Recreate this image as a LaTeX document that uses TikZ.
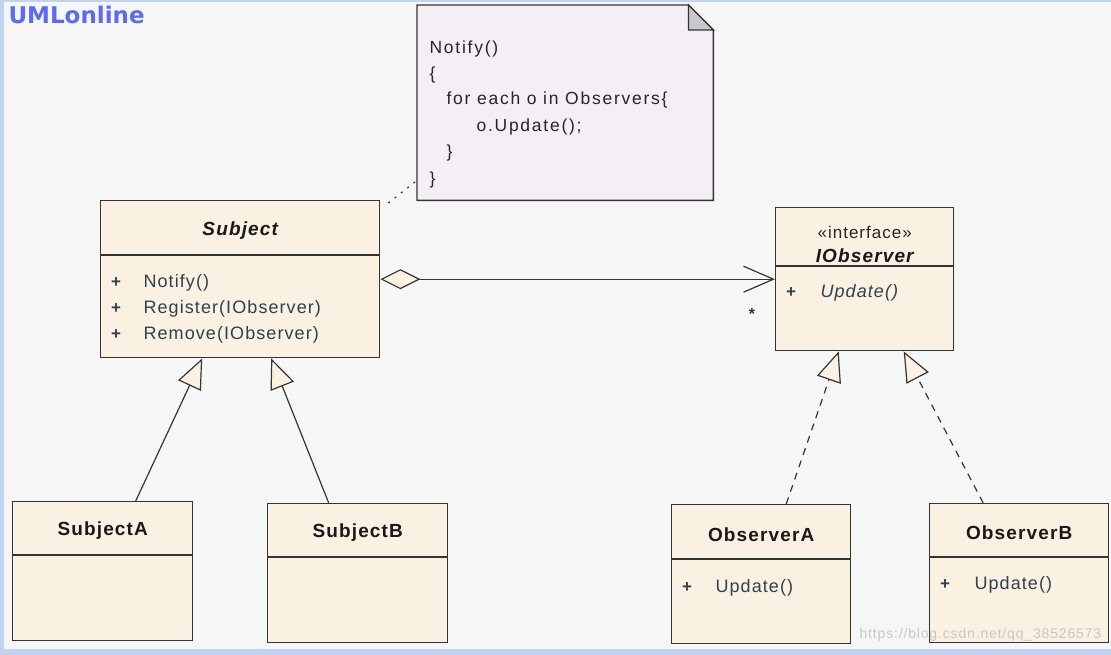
\documentclass[tikz,border=0pt]{standalone}
\usepackage{fontspec}
\setmainfont{Liberation Sans}[LetterSpace=6]
\newfontfamily\notefont{Liberation Sans}[LetterSpace=10]
\newfontfamily\logofont{DejaVu Sans}
\usetikzlibrary{arrows.meta}

\definecolor{boxfill}{RGB}{251,241,227}
\definecolor{notefill}{RGB}{243,239,245}
\definecolor{foldfill}{RGB}{200,200,204}
\definecolor{linecol}{RGB}{52,52,52}
\definecolor{membercol}{RGB}{44,66,78}
\definecolor{logoblue}{RGB}{92,108,240}
\definecolor{framecol}{RGB}{192,212,242}
\definecolor{bgcol}{RGB}{246,246,246}

\tikzset{
  classbox/.style={draw=linecol,fill=boxfill,line width=1.4pt,anchor=north west,inner sep=0pt},
  classname/.style={font=\fontsize{19}{22}\selectfont\bfseries,text=black!90},
  member/.style={anchor=west,font=\fontsize{18}{21}\selectfont,text=membercol},
  plus/.style={anchor=center,font=\fontsize{17}{20}\selectfont\bfseries,text=membercol},
  notetext/.style={anchor=west,font=\notefont\fontsize{17.5}{21}\selectfont,text=black!85},
  inherit/.style={draw=linecol,line width=1.2pt,-{Triangle[length=30pt,width=25pt,fill=boxfill]}},
  realize/.style={inherit,dash pattern=on 7pt off 6pt}
}

\begin{document}
\begin{tikzpicture}[x=1pt,y=-1pt]
  \useasboundingbox (0,0) rectangle (1111,655);
  \fill[bgcol] (0,0) rectangle (1111,655);
  % frame
  \fill[framecol] (0,0) rectangle (1111,2.5);
  \fill[framecol] (0,0) rectangle (3.5,655);
  \fill[framecol] (0,649) rectangle (1111,655);

  \node[anchor=west,text=logoblue,font=\logofont\fontsize{23}{26}\selectfont\bfseries]
    (logo) at (5,15) {UMLonline};

  % note
  \node[anchor=north west,minimum width=296,minimum height=195,inner sep=0pt]
    (note) at (417,5) {};
  \draw[draw=linecol,fill=notefill,line width=1.4pt]
    (note.south west) -- (note.north west) -- ([xshift=-25]note.north east)
    -- ([yshift=-25]note.north east) -- (note.south east) -- cycle;
  \draw[draw=linecol,fill=foldfill,line width=1.2pt]
    ([xshift=-25]note.north east) -- ([xshift=-25,yshift=-25]note.north east)
    -- ([yshift=-25]note.north east) -- cycle;
  \node[notetext] (n1) at (426,49) {Notify()};
  \node[notetext] (n2) at (426,75) {\{};
  \node[notetext] (n3) at (443,100) {for each o in Observers\{};
  \node[notetext] (n4) at (473,127) {o.Update();};
  \node[notetext] (n5) at (443,153) {\}};
  \node[notetext] (n6) at (426,180) {\}};

  % Subject
  \node[classbox,minimum width=279,minimum height=157] (subj) at (100,200) {};
  \draw[linecol,line width=1.2pt] (subj.west |- 0,255) -- (subj.east |- 0,255);
  \node[classname,font=\fontsize{19}{22}\selectfont\bfseries\itshape]
    (subjname) at (subj.north |- 0,231) {Subject};
  \node[plus] (sp1) at (116,283) {+};
  \node[plus] (sp2) at (116,309) {+};
  \node[plus] (sp3) at (116,335) {+};
  \node[member] (sm1) at (140,283) {Notify()};
  \node[member] (sm2) at (140,309) {Register(IObserver)};
  \node[member] (sm3) at (140,335) {Remove(IObserver)};

  % IObserver
  \node[classbox,minimum width=178,minimum height=143] (iobs) at (775,207) {};
  \draw[linecol,line width=1.2pt] (iobs.west |- 0,266) -- (iobs.east |- 0,266);
  \node[font=\fontsize{17}{20}\selectfont,text=black!85]
    (stereo) at (iobs.north |- 0,232) {«interface»};
  \node[classname,font=\fontsize{19}{22}\selectfont\bfseries\itshape]
    (iobsname) at (iobs.north |- 0,256) {IObserver};
  \node[plus] (ip1) at (791,293) {+};
  \node[member,font=\fontsize{18}{21}\selectfont\itshape] (im1) at (817,293) {Update()};

  % SubjectA, SubjectB
  \node[classbox,minimum width=180,minimum height=139] (subjA) at (12,501) {};
  \draw[linecol,line width=1.2pt] (subjA.west |- 0,555) -- (subjA.east |- 0,555);
  \node[classname] (subjAname) at (subjA.north |- 0,531) {SubjectA};

  \node[classbox,minimum width=180,minimum height=139] (subjB) at (267,503) {};
  \draw[linecol,line width=1.2pt] (subjB.west |- 0,557) -- (subjB.east |- 0,557);
  \node[classname] (subjBname) at (subjB.north |- 0,533) {SubjectB};

  % ObserverA, ObserverB
  \node[classbox,minimum width=179,minimum height=139] (obsA) at (671,504) {};
  \draw[linecol,line width=1.2pt] (obsA.west |- 0,559) -- (obsA.east |- 0,559);
  \node[classname] (obsAname) at (obsA.north |- 0,535) {ObserverA};
  \node[plus] (ap1) at (687,588) {+};
  \node[member] (am1) at (712,588) {Update()};

  \node[classbox,minimum width=179,minimum height=139] (obsB) at (929,503) {};
  \draw[linecol,line width=1.2pt] (obsB.west |- 0,557) -- (obsB.east |- 0,557);
  \node[classname] (obsBname) at (obsB.north |- 0,533) {ObserverB};
  \node[plus] (bp1) at (945,585) {+};
  \node[member] (bm1) at (971,585) {Update()};

  % connectors
  \draw[linecol,line width=1.2pt,dash pattern=on 2pt off 6pt]
    ([xshift=8,yshift=-3]subj.north east) -- ([yshift=20]note.south west);
  \draw[draw=linecol,line width=1.2pt,
    {Diamond[length=40pt,width=20pt,fill=boxfill]}-{Straight Barb[length=30pt,width=26pt]}]
    (subj.east) -- (iobs.west);
  \node[font=\fontsize{16}{18}\selectfont\bfseries,text=black!80] (mult) at (752,314) {*};

  \draw[inherit] ([xshift=33]subjA.north) -- ([xshift=-38]subj.south);
  \draw[inherit] ([xshift=-29]subjB.north) -- ([xshift=31]subj.south);
  \draw[realize] ([xshift=25]obsA.north) -- ([xshift=-26]iobs.south);
  \draw[realize] ([xshift=-36]obsB.north) -- ([xshift=39]iobs.south);

  \node[anchor=west,font=\fontsize{14}{16}\selectfont,text=black!22]
    (mark) at (856,635) {https://blog.csdn.net/qq\_38526573};
\end{tikzpicture}
\end{document}
